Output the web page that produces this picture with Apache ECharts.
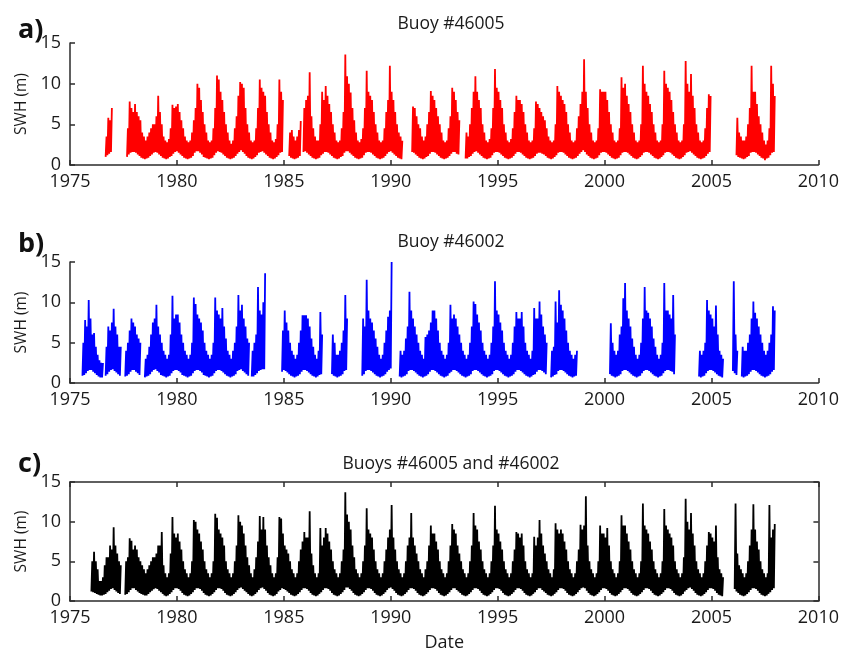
<!DOCTYPE html>
<html><head><meta charset="utf-8">
<script src="https://cdn.jsdelivr.net/npm/echarts@6/dist/echarts.min.js"></script>
<style>html,body{margin:0;padding:0;background:#fff}#c{width:842px;height:654px}</style>
</head><body><div id="c"></div>
<script>
const _ = null;
// Monthly series, January 1975 to December 2007 (one row per year, 12 months)
const startYear = 1975;
const panelTitles = ['Buoy #46005', 'Buoy #46002', 'Buoys #46005 and #46002'];
const panelLetters = ['a)', 'b)', 'c)'];
const xMin = 1975, xMax = 2010, xStep = 5;
const yMin = 0, yMax = 15, yStep = 5;

// Buoy 46005: monthly maximum SWH (m)
const hi46005 = [
_,_,_,_,_,_,_,_,_,_,_,_,
_,_,_,_,_,_,_,_,3.5,5.8,5.5,7.0,
_,_,_,_,_,_,_,_,4.5,7.8,7.0,6.5,
7.5,6.5,6.0,5.5,4.0,3.5,3.0,3.5,4.0,4.5,5.0,5.0,
6.0,8.5,6.5,5.0,3.5,3.0,2.8,3.2,4.5,7.4,7.0,7.2,
7.5,6.5,5.5,4.5,3.5,3.0,2.8,3.0,4.0,5.5,7.0,10.0,
9.5,8.0,6.5,5.0,4.0,3.0,2.8,3.0,4.5,7.0,11.0,10.5,
9.0,8.0,6.5,5.0,4.0,3.0,2.6,3.0,4.5,6.0,8.5,10.2,
10.0,9.5,7.0,5.0,4.0,3.0,2.8,3.0,4.5,7.0,10.5,9.5,
9.0,8.5,6.5,5.0,4.0,3.0,2.8,3.2,5.0,10.5,9.0,8.0,
_,_,_,4.0,4.3,3.5,3.0,3.5,4.3,5.4,_,7.0,
8.0,8.5,11.4,6.0,4.5,3.5,3.0,3.0,5.0,9.0,8.0,9.7,
8.5,7.5,6.5,5.0,4.0,3.0,2.8,3.0,4.5,6.5,13.6,10.9,
10.0,8.9,7.0,5.5,4.0,3.0,2.8,3.2,4.5,7.0,11.6,9.0,
8.5,8.0,6.5,5.0,4.0,3.0,2.8,3.0,4.5,6.5,8.0,12.2,
9.0,8.0,6.5,5.0,4.0,3.5,3.0,_,_,_,_,_,
7.2,7.0,6.0,5.0,4.5,3.5,3.0,3.5,5.0,6.5,9.1,8.5,
8.0,7.0,6.0,5.0,4.0,3.0,2.8,3.0,4.5,6.0,9.5,9.0,
8.0,6.5,5.5,_,_,_,4.0,3.5,5.0,7.0,9.0,10.9,
9.0,8.0,7.0,5.0,4.0,3.0,2.8,3.2,4.5,7.0,11.8,9.5,
9.0,8.0,7.0,5.0,4.0,3.0,2.8,3.2,4.5,6.5,8.5,8.0,
8.0,7.5,6.5,5.0,4.0,3.0,2.8,3.0,4.5,7.8,7.5,7.0,
6.5,6.0,5.5,4.5,3.5,3.0,2.8,3.0,5.0,9.7,9.0,8.5,
8.0,7.5,6.5,5.0,4.0,3.0,2.8,3.0,4.5,6.0,7.5,9.0,
13.0,9.0,7.0,5.0,4.0,3.0,2.8,3.0,4.5,9.3,9.0,9.0,
9.0,8.0,6.5,5.0,4.0,3.0,2.8,3.0,4.5,10.8,9.5,10.0,
8.5,7.5,6.5,5.0,4.0,3.0,2.8,3.0,5.0,12.2,10.0,9.0,
8.5,7.5,6.5,5.0,4.0,3.0,2.8,3.0,5.0,11.6,10.0,9.5,
9.0,8.0,6.5,5.0,4.0,3.0,2.8,3.0,5.0,12.8,10.0,9.0,
11.2,8.5,7.0,5.0,4.0,3.0,2.8,3.0,4.5,7.0,8.7,8.5,
_,_,_,_,_,_,_,_,_,_,_,_,
_,_,5.8,4.0,3.5,3.0,3.0,3.5,5.0,7.0,12.2,9.0,
9.0,7.5,6.0,5.0,4.0,3.0,2.5,3.0,4.5,12.2,10.0,8.5
];
// Buoy 46005: monthly minimum SWH (m)
const lo46005 = [
_,_,_,_,_,_,_,_,_,_,_,_,
_,_,_,_,_,_,_,_,1.0,1.2,1.4,1.6,
_,_,_,_,_,_,_,_,1.0,1.3,1.5,1.6,
1.6,1.5,1.3,1.1,0.9,0.8,0.7,0.8,0.9,1.1,1.3,1.5,
1.6,1.5,1.3,1.1,0.9,0.8,0.7,0.8,1.0,1.1,1.4,1.6,
1.7,1.5,1.3,1.1,0.9,0.8,0.7,0.8,0.9,1.1,1.5,1.7,
1.7,1.5,1.3,1.0,0.9,0.8,0.7,0.8,0.9,1.2,1.5,1.7,
1.6,1.5,1.3,1.1,0.9,0.8,0.7,0.8,0.9,1.1,1.4,1.6,
1.8,1.6,1.4,1.1,0.9,0.8,0.7,0.8,1.0,1.2,1.5,1.6,
1.7,1.5,1.3,1.1,0.9,0.8,0.7,0.8,1.0,1.2,1.5,1.6,
_,_,_,1.1,0.9,0.8,0.7,0.8,0.9,1.1,_,1.6,
1.7,1.5,1.3,1.1,0.9,0.8,0.7,0.8,0.9,1.2,1.4,1.6,
1.6,1.5,1.3,1.1,0.9,0.8,0.7,0.8,1.0,1.1,1.5,1.7,
1.7,1.5,1.3,1.1,0.9,0.8,0.7,0.8,0.9,1.2,1.5,1.6,
1.6,1.5,1.3,1.1,0.9,0.8,0.7,0.8,0.9,1.1,1.4,1.6,
1.7,1.5,1.3,1.1,0.9,0.8,0.7,_,_,_,_,_,
1.6,1.5,1.3,1.1,0.9,0.8,0.7,0.8,1.0,1.1,1.4,1.6,
1.6,1.5,1.3,1.1,0.9,0.8,0.7,0.8,0.9,1.1,1.4,1.6,
1.6,1.4,1.3,_,_,_,0.8,0.8,1.0,1.1,1.4,1.6,
1.7,1.5,1.3,1.1,0.9,0.8,0.7,0.8,0.9,1.2,1.5,1.6,
1.6,1.5,1.3,1.1,0.9,0.8,0.7,0.8,0.9,1.1,1.4,1.6,
1.6,1.5,1.3,1.1,0.9,0.8,0.7,0.8,0.9,1.1,1.4,1.5,
1.5,1.4,1.3,1.1,0.9,0.8,0.7,0.8,1.0,1.2,1.5,1.6,
1.6,1.5,1.3,1.1,0.9,0.8,0.7,0.8,0.9,1.1,1.4,1.6,
1.8,1.6,1.3,1.1,0.9,0.8,0.7,0.8,0.9,1.2,1.5,1.6,
1.6,1.5,1.3,1.1,0.9,0.8,0.7,0.8,0.9,1.2,1.5,1.6,
1.6,1.5,1.3,1.1,0.9,0.8,0.7,0.8,1.0,1.2,1.5,1.6,
1.6,1.5,1.3,1.1,0.9,0.8,0.7,0.8,1.0,1.2,1.5,1.6,
1.6,1.5,1.3,1.1,0.9,0.8,0.7,0.8,1.0,1.2,1.5,1.6,
1.7,1.5,1.3,1.1,0.9,0.8,0.7,0.8,0.9,1.1,1.4,1.6,
_,_,_,_,_,_,_,_,_,_,_,_,
_,_,1.2,1.0,0.9,0.8,0.7,0.8,1.0,1.1,1.5,1.6,
1.6,1.5,1.3,1.1,0.9,0.8,0.6,0.8,0.9,1.2,1.5,1.6
];

// Buoy 46002: monthly maximum SWH (m)
const hi46002 = [
_,_,_,_,_,_,_,5.0,7.8,7.0,10.3,8.0,
6.0,6.2,4.5,3.5,2.8,2.5,2.5,_,4.5,7.0,6.5,7.5,
9.2,7.0,6.0,4.5,4.5,_,_,4.0,5.0,6.5,8.0,7.5,
7.0,6.0,5.5,5.0,_,_,3.0,3.5,4.5,6.0,7.5,8.0,
9.7,7.0,6.0,5.0,4.0,3.5,3.0,3.5,6.0,10.8,8.0,8.5,
8.5,7.5,6.0,5.0,4.0,3.5,3.0,3.5,5.0,10.6,9.8,8.5,
8.0,7.5,6.5,5.0,4.0,3.5,3.0,3.5,5.0,10.6,9.0,8.5,
8.0,9.3,7.0,5.5,4.0,3.5,3.0,4.0,5.0,7.0,10.9,9.0,
9.7,8.0,7.0,5.5,5.0,_,4.0,5.0,6.0,11.9,9.0,8.5,
10.0,13.6,_,_,_,_,_,_,_,_,_,6.5,
9.0,7.5,6.5,5.0,4.0,3.5,3.0,3.5,5.0,6.5,8.4,8.4,
8.4,8.0,7.0,5.5,4.5,3.5,3.0,4.0,8.8,6.0,_,_,
_,_,_,6.0,5.0,3.5,3.5,4.0,5.0,6.5,10.9,8.0,
_,_,_,_,_,_,_,_,8.0,7.0,12.8,9.0,
8.0,7.5,6.5,5.5,4.5,3.5,3.0,3.5,5.0,6.5,8.2,9.0,
15.0,_,_,_,_,4.0,3.5,4.0,5.5,7.0,11.3,9.0,
8.0,7.0,6.0,5.0,4.0,3.5,3.0,5.7,6.0,6.5,7.5,9.0,
9.0,8.0,6.5,5.0,4.0,3.5,3.0,3.5,5.0,9.7,8.0,8.5,
8.0,7.0,6.0,5.0,4.0,3.5,3.0,3.5,5.0,7.0,10.1,9.8,
8.5,7.5,6.5,5.0,4.0,3.5,3.0,3.5,5.0,7.0,12.6,9.0,
8.5,7.5,6.5,5.0,4.0,3.5,3.0,3.5,5.0,7.0,8.8,8.0,
8.0,8.8,7.0,5.0,4.0,3.5,3.0,4.0,9.3,8.0,8.0,10.1,
8.5,7.0,6.0,5.0,_,_,4.0,4.5,10.1,7.5,11.5,9.7,
9.0,8.0,6.5,5.0,4.0,3.5,3.0,3.5,4.0,_,_,_,
_,_,_,_,_,_,_,_,_,_,_,_,
_,_,_,7.4,5.0,4.0,3.5,4.0,6.0,7.0,10.5,12.4,
9.0,8.0,7.0,5.5,4.5,3.5,3.0,3.5,5.0,8.0,11.9,9.0,
8.7,8.0,7.0,5.5,4.5,3.5,3.0,3.5,5.0,12.4,9.0,9.0,
8.5,8.0,10.9,6.0,_,_,_,_,_,_,_,_,
_,_,_,_,_,4.0,3.5,4.0,5.0,10.3,9.0,8.5,
8.0,7.0,9.6,6.0,4.0,3.5,3.0,_,_,_,_,_,
12.6,6.0,4.0,_,_,4.5,4.0,4.0,5.0,6.0,8.0,10.1,
8.7,8.0,7.0,6.0,5.0,4.0,3.5,4.0,5.0,6.0,9.5,9.0
];
// Buoy 46002: monthly minimum SWH (m)
const lo46002 = [
_,_,_,_,_,_,_,0.9,1.0,1.2,1.5,1.6,
1.6,1.4,1.2,1.0,0.8,0.7,0.7,_,0.9,1.1,1.4,1.6,
1.7,1.5,1.3,1.1,0.9,_,_,0.8,0.9,1.1,1.4,1.6,
1.6,1.4,1.2,1.0,_,_,0.7,0.8,0.9,1.1,1.4,1.6,
1.7,1.5,1.3,1.0,0.9,0.8,0.7,0.8,0.9,1.2,1.5,1.6,
1.6,1.5,1.3,1.0,0.9,0.8,0.7,0.8,0.9,1.2,1.5,1.6,
1.6,1.5,1.3,1.0,0.9,0.8,0.7,0.8,0.9,1.2,1.5,1.6,
1.6,1.5,1.3,1.1,0.9,0.8,0.7,0.8,0.9,1.1,1.5,1.6,
1.7,1.5,1.3,1.1,0.9,_,0.8,0.8,1.0,1.2,1.5,1.6,
1.7,1.7,_,_,_,_,_,_,_,_,_,1.4,
1.6,1.5,1.3,1.1,0.9,0.8,0.7,0.8,0.9,1.1,1.4,1.6,
1.6,1.5,1.3,1.1,0.9,0.8,0.7,0.8,1.0,1.1,_,_,
_,_,_,1.1,0.9,0.8,0.7,0.8,0.9,1.1,1.5,1.6,
_,_,_,_,_,_,_,_,0.9,1.1,1.5,1.6,
1.6,1.5,1.3,1.1,0.9,0.8,0.7,0.8,0.9,1.1,1.4,1.6,
1.8,_,_,_,_,0.8,0.7,0.8,0.9,1.1,1.5,1.6,
1.6,1.5,1.3,1.1,0.9,0.8,0.7,0.8,0.9,1.1,1.4,1.6,
1.6,1.5,1.3,1.1,0.9,0.8,0.7,0.8,0.9,1.2,1.4,1.6,
1.6,1.5,1.3,1.1,0.9,0.8,0.7,0.8,0.9,1.1,1.5,1.6,
1.6,1.5,1.3,1.1,0.9,0.8,0.7,0.8,0.9,1.1,1.5,1.6,
1.6,1.5,1.3,1.1,0.9,0.8,0.7,0.8,0.9,1.1,1.4,1.6,
1.6,1.5,1.3,1.1,0.9,0.8,0.7,0.8,1.0,1.1,1.4,1.6,
1.6,1.5,1.3,1.1,_,_,0.7,0.8,1.0,1.1,1.5,1.6,
1.6,1.5,1.3,1.1,0.9,0.8,0.7,0.8,0.9,_,_,_,
_,_,_,_,_,_,_,_,_,_,_,_,
_,_,_,1.1,0.9,0.8,0.7,0.8,0.9,1.1,1.5,1.6,
1.6,1.5,1.3,1.1,0.9,0.8,0.7,0.8,0.9,1.2,1.5,1.6,
1.6,1.5,1.3,1.1,0.9,0.8,0.7,0.8,0.9,1.2,1.5,1.6,
1.6,1.5,1.4,1.1,_,_,_,_,_,_,_,_,
_,_,_,_,_,0.8,0.7,0.8,0.9,1.2,1.5,1.6,
1.6,1.5,1.3,1.1,0.9,0.8,0.7,_,_,_,_,_,
1.5,1.2,1.0,_,_,0.8,0.7,0.8,0.9,1.1,1.4,1.6,
1.6,1.5,1.3,1.1,0.9,0.8,0.7,0.8,0.9,1.1,1.4,1.6
];

// Combined record: monthly maximum SWH (m)
const hiBoth = [
_,_,_,_,_,_,_,_,_,_,_,_,
5.0,6.2,5.0,4.0,2.5,2.5,3.0,4.5,5.5,5.5,7.0,6.5,
9.3,7.0,6.0,5.0,4.5,_,_,5.0,5.5,7.9,7.6,6.5,
7.0,6.5,5.5,5.0,4.5,4.0,3.5,4.0,4.5,5.0,5.5,5.5,
6.0,7.0,7.0,8.7,4.5,3.5,3.0,3.5,6.0,10.6,8.5,8.0,
8.5,7.5,6.5,5.0,4.0,3.5,3.0,3.5,5.0,10.2,10.0,9.0,
8.5,7.5,6.5,5.0,4.0,3.5,3.0,3.5,5.0,11.0,10.5,9.0,
8.5,8.0,7.0,5.0,4.0,3.5,3.0,3.5,5.0,7.0,10.8,10.0,
9.5,8.5,7.0,5.5,4.5,3.5,3.0,4.0,5.5,7.5,10.7,9.0,
10.6,9.0,7.0,5.5,4.5,3.5,3.0,3.5,5.5,10.6,10.4,8.5,
7.0,6.5,6.0,5.0,4.0,3.5,3.0,3.5,5.0,6.5,7.5,8.7,
8.0,8.0,11.3,6.0,4.5,3.5,3.0,3.5,9.2,7.0,8.0,9.2,
8.5,7.5,6.5,5.0,4.0,3.5,3.0,3.5,5.0,6.5,13.7,10.9,
10.0,9.0,7.0,5.5,4.0,3.5,3.0,3.5,5.0,7.0,11.7,9.0,
8.5,8.0,6.5,5.0,4.0,3.5,3.0,3.5,5.0,6.5,8.0,9.0,
12.1,8.0,6.5,5.0,4.0,3.5,3.0,3.5,5.0,7.0,8.0,11.1,
8.0,7.0,6.0,5.0,4.0,3.5,3.0,4.0,5.0,7.0,9.5,8.5,
8.5,7.5,6.5,5.0,4.0,3.5,3.0,3.5,5.0,7.0,9.7,9.0,
8.5,7.0,6.0,5.0,4.0,3.5,3.0,3.5,5.0,7.0,11.1,9.5,
9.0,7.5,6.5,5.0,4.0,3.5,3.0,3.5,5.0,7.0,12.0,9.0,
8.5,7.5,6.5,5.0,4.0,3.5,3.0,3.5,5.0,6.5,8.7,8.5,
8.0,8.5,7.0,5.0,4.0,3.5,3.0,3.5,8.1,7.0,8.0,10.2,
8.5,7.0,6.0,5.0,4.0,3.5,3.0,4.0,9.8,9.0,8.5,9.0,
8.5,7.5,6.5,5.0,4.0,3.5,3.0,3.5,5.0,6.5,9.6,9.0,
9.5,13.2,7.0,5.0,4.0,3.5,3.0,3.5,5.0,9.5,8.5,8.5,
8.0,9.2,7.0,5.0,4.0,3.5,3.0,3.5,5.0,10.8,9.5,9.5,
8.5,7.5,6.5,5.0,4.0,3.5,3.0,3.5,5.0,12.3,9.5,9.0,
8.5,7.5,6.5,5.0,4.0,3.5,3.0,3.5,5.0,11.6,9.5,9.0,
8.5,8.0,7.0,5.0,4.0,3.5,3.0,3.5,5.5,12.9,10.0,9.0,
11.1,8.5,7.0,5.0,4.0,3.5,3.0,3.5,5.0,7.0,8.7,8.5,
8.0,7.5,9.5,5.5,4.0,3.5,3.0,_,_,_,_,_,
_,12.3,6.0,4.5,4.0,3.5,3.0,3.5,5.0,7.0,9.0,12.2,
9.0,7.5,6.5,5.0,4.0,3.5,3.0,3.5,12.1,8.0,9.0,9.7
];
// Combined record: monthly minimum SWH (m)
const loBoth = [
_,_,_,_,_,_,_,_,_,_,_,_,
1.2,1.1,1.0,0.9,0.8,0.7,0.7,0.8,0.9,1.1,1.3,1.5,
1.6,1.4,1.2,1.0,0.9,_,_,0.8,0.9,1.1,1.4,1.6,
1.6,1.4,1.2,1.0,0.9,0.8,0.7,0.7,0.9,1.1,1.3,1.5,
1.6,1.5,1.3,1.1,0.9,0.7,0.6,0.7,0.9,1.1,1.4,1.6,
1.6,1.5,1.3,1.0,0.8,0.7,0.6,0.7,0.9,1.1,1.4,1.6,
1.6,1.5,1.3,1.0,0.8,0.7,0.6,0.7,0.9,1.1,1.4,1.6,
1.6,1.5,1.3,1.0,0.8,0.7,0.6,0.7,0.9,1.1,1.4,1.6,
1.7,1.5,1.3,1.1,0.9,0.7,0.6,0.7,0.9,1.1,1.4,1.6,
1.7,1.5,1.3,1.0,0.8,0.7,0.6,0.7,0.9,1.2,1.4,1.6,
1.5,1.4,1.2,1.0,0.8,0.7,0.6,0.7,0.9,1.1,1.4,1.6,
1.6,1.5,1.3,1.0,0.8,0.7,0.6,0.7,0.9,1.1,1.4,1.6,
1.6,1.5,1.3,1.0,0.8,0.7,0.6,0.7,0.9,1.1,1.4,1.7,
1.7,1.5,1.3,1.0,0.8,0.7,0.6,0.7,0.9,1.1,1.4,1.6,
1.6,1.5,1.3,1.0,0.8,0.7,0.6,0.7,0.9,1.1,1.4,1.6,
1.7,1.5,1.3,1.0,0.8,0.7,0.6,0.7,0.9,1.1,1.4,1.6,
1.6,1.5,1.3,1.0,0.8,0.7,0.6,0.7,0.9,1.1,1.4,1.6,
1.6,1.5,1.3,1.0,0.8,0.7,0.6,0.7,0.9,1.1,1.4,1.6,
1.6,1.4,1.2,1.0,0.8,0.7,0.6,0.7,0.9,1.1,1.4,1.6,
1.6,1.5,1.3,1.0,0.8,0.7,0.6,0.7,0.9,1.1,1.4,1.6,
1.6,1.5,1.3,1.0,0.8,0.7,0.6,0.7,0.9,1.1,1.4,1.6,
1.6,1.5,1.3,1.0,0.8,0.7,0.6,0.7,0.9,1.1,1.4,1.6,
1.6,1.4,1.2,1.0,0.8,0.7,0.6,0.7,0.9,1.1,1.4,1.6,
1.6,1.5,1.3,1.0,0.8,0.7,0.6,0.7,0.9,1.1,1.4,1.6,
1.7,1.6,1.3,1.0,0.8,0.7,0.6,0.7,0.9,1.1,1.4,1.6,
1.6,1.5,1.3,1.0,0.8,0.7,0.6,0.7,0.9,1.1,1.4,1.6,
1.6,1.5,1.3,1.0,0.8,0.7,0.6,0.7,0.9,1.1,1.4,1.6,
1.6,1.5,1.3,1.0,0.8,0.7,0.6,0.7,0.9,1.1,1.4,1.6,
1.6,1.5,1.3,1.0,0.8,0.7,0.6,0.7,0.9,1.2,1.4,1.6,
1.7,1.5,1.3,1.0,0.8,0.7,0.6,0.7,0.9,1.1,1.4,1.6,
1.6,1.5,1.3,1.0,0.8,0.7,0.6,_,_,_,_,_,
_,1.5,1.2,1.0,0.8,0.7,0.6,0.7,0.9,1.1,1.4,1.6,
1.6,1.5,1.3,1.0,0.8,0.7,0.6,0.7,0.9,1.1,1.4,1.6
];

const seriesColors = ['#ff0000', '#0000ff', '#000000'];

// each month: its minimum at the month start, its maximum at mid-month
function monthlyPoints(hi, lo) {
  const pts = [];
  for (let i = 0; i < hi.length; i++) {
    const t = startYear + i / 12;
    if (hi[i] === null || lo[i] === null) { pts.push([t, null]); continue; }
    pts.push([t, lo[i]]);
    pts.push([t + 1 / 24, hi[i]]);
  }
  return pts;
}

const FONT = '"Open Sans", "Liberation Sans", sans-serif';
const axisCol = '#2b2b2b';
const textCol = '#1a1a1a';
const grids = [
  { left: 70, right: 20, top: 43, height: 122 },
  { left: 70, right: 20, top: 262, height: 121 },
  { left: 70, right: 20, top: 482, height: 119 }
];
const titleTops = [10, 228, 450];
const letterTops = [12, 226, 446];
const yearLabel = v => String(v);

const xAxes = [], yAxes = [];
grids.forEach((g, i) => {
  xAxes.push({
    gridIndex: i, type: 'value', min: xMin, max: xMax, interval: xStep,
    axisLine: { show: true, onZero: false, lineStyle: { color: axisCol, width: 1.5 } },
    axisTick: { show: true, inside: true, length: 5, lineStyle: { color: axisCol, width: 1.5 } },
    axisLabel: { show: true, fontSize: 18, color: textCol, margin: 8, fontFamily: FONT, formatter: yearLabel },
    splitLine: { show: false },
    name: i === 2 ? 'Date' : '',
    nameLocation: 'middle', nameGap: 33,
    nameTextStyle: { fontSize: 18, color: textCol, fontFamily: FONT }
  });
  yAxes.push({
    gridIndex: i, type: 'value', min: yMin, max: yMax, interval: yStep,
    axisLine: { show: true, onZero: false, lineStyle: { color: axisCol, width: 1.5 } },
    axisTick: { show: true, inside: true, length: 5, lineStyle: { color: axisCol, width: 1.5 } },
    axisLabel: { show: true, fontSize: 18, color: textCol, margin: 9, fontFamily: FONT },
    splitLine: { show: false },
    name: 'SWH (m)', nameLocation: 'middle', nameGap: 34, nameRotate: 90,
    nameTextStyle: { fontSize: 15.5, color: textCol, fontFamily: FONT }
  });
});
// box around the third panel
xAxes.push({
  gridIndex: 2, type: 'value', position: 'top', min: xMin, max: xMax, interval: xStep,
  axisLine: { show: true, onZero: false, lineStyle: { color: axisCol, width: 1.5 } },
  axisTick: { show: true, inside: true, length: 5, lineStyle: { color: axisCol, width: 1.5 } },
  axisLabel: { show: false }, splitLine: { show: false }
});
yAxes.push({
  gridIndex: 2, type: 'value', position: 'right', min: yMin, max: yMax, interval: yStep,
  axisLine: { show: true, onZero: false, lineStyle: { color: axisCol, width: 1.5 } },
  axisTick: { show: true, inside: true, length: 5, lineStyle: { color: axisCol, width: 1.5 } },
  axisLabel: { show: false }, splitLine: { show: false }
});

const titles = [];
panelTitles.forEach((t, i) => {
  titles.push({ text: t, left: 446, top: titleTops[i], textAlign: 'center',
    textStyle: { fontSize: 17.5, fontWeight: 'normal', color: textCol, fontFamily: FONT } });
  titles.push({ text: panelLetters[i], left: 13, top: letterTops[i],
    textStyle: { fontSize: 27, fontWeight: 'bold', color: '#111', fontFamily: FONT } });
});

const seriesData = [monthlyPoints(hi46005, lo46005), monthlyPoints(hi46002, lo46002), monthlyPoints(hiBoth, loBoth)];
const series = seriesData.map((d, i) => ({
  type: 'line', xAxisIndex: i, yAxisIndex: i, data: d,
  showSymbol: false, symbol: 'none', connectNulls: false, sampling: null,
  lineStyle: { color: seriesColors[i], width: 1.8, join: 'miter', miterLimit: 2 },
  itemStyle: { color: seriesColors[i] },
  animation: false
}));

const chart = echarts.init(document.getElementById('c'), null, { renderer: 'canvas' });
chart.setOption({
  backgroundColor: '#fff', animation: false,
  title: titles, grid: grids, xAxis: xAxes, yAxis: yAxes, series: series
});
</script></body></html>
